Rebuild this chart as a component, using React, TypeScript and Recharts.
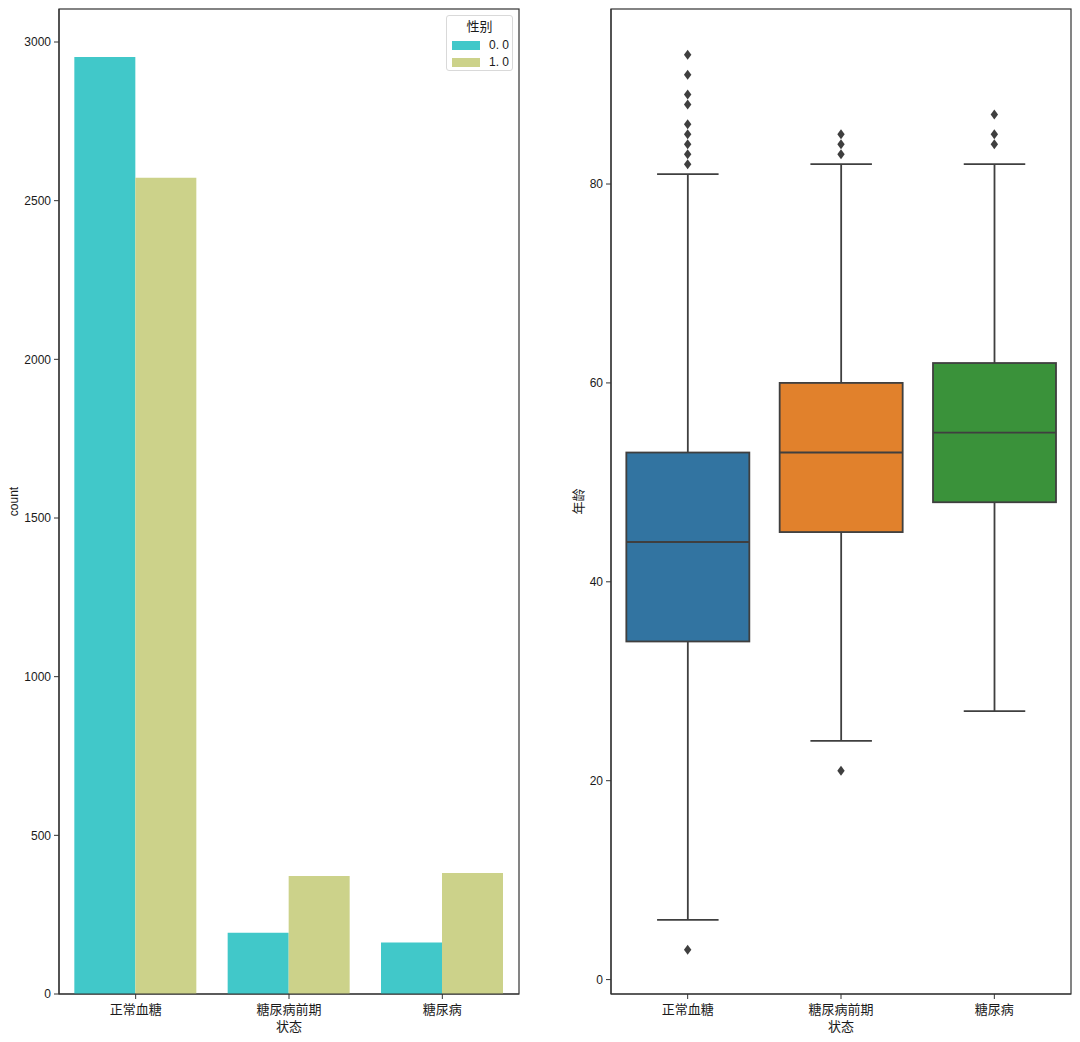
import React from "react";
import {
  BarChart,
  ComposedChart,
  Bar,
  Line,
  XAxis,
  YAxis,
  usePlotArea,
} from "recharts";

const categories = ["正常血糖", "糖尿病前期", "糖尿病"];

// left panel: counts by sex
const countSex0 = [2953, 193, 162];
const countSex1 = [2572, 372, 381];
const countTicks = [0, 500, 1000, 1500, 2000, 2500, 3000];
const legendLabels = ["0. 0", "1. 0"];

// right panel: age box plots
const whiskerLow = [6, 24, 27];
const whiskerHigh = [81, 82, 82];
const q1 = [34, 45, 48];
const median = [44, 53, 55];
const q3 = [53, 60, 62];
const outliers = [
  [93, 91, 89, 88, 86, 85, 84, 83, 82, 3],
  [85, 84, 83, 21],
  [87, 85, 84],
];
const boxColors = ["#3274a1", "#e1812c", "#3a923a"];
const ageTicks = [0, 20, 40, 60, 80];

const TEAL = "#41c8c9";
const OLIVE = "#ccd28a";
const AXIS = "#333333";
const INK = "#1a1a1a";
const BOX_LINE = "#3f3f3f";
const FONT = "'Liberation Sans', 'Noto Sans CJK SC', sans-serif";

const countData = categories.map((name, i) => ({
  name,
  sex0: countSex0[i],
  sex1: countSex1[i],
}));

const maxOutliers = Math.max(...outliers.map((o) => o.length));
const boxData = categories.map((name, i) => {
  const row: any = {
    name,
    range: [whiskerLow[i], whiskerHigh[i]],
    lo: whiskerLow[i],
    hi: whiskerHigh[i],
    q1: q1[i],
    med: median[i],
    q3: q3[i],
    color: boxColors[i],
  };
  outliers[i].forEach((v, k) => {
    row["o" + k] = v;
  });
  return row;
});

const BoxShape = (props: any) => {
  const { x, y, width, height, payload } = props;
  const { lo, hi } = payload;
  const py = (v: number) => y + ((hi - v) / (hi - lo)) * height;
  const cx = x + width / 2;
  const capW = width / 4;
  const sw = 1.8;
  return (
    <g>
      <line x1={cx} x2={cx} y1={y} y2={y + height} stroke={BOX_LINE} strokeWidth={sw} />
      <line x1={cx - capW} x2={cx + capW} y1={y} y2={y} stroke={BOX_LINE} strokeWidth={sw} />
      <line x1={cx - capW} x2={cx + capW} y1={y + height} y2={y + height} stroke={BOX_LINE} strokeWidth={sw} />
      <rect
        x={x}
        y={py(payload.q3)}
        width={width}
        height={py(payload.q1) - py(payload.q3)}
        fill={payload.color}
        stroke={BOX_LINE}
        strokeWidth={sw}
      />
      <line x1={x} x2={x + width} y1={py(payload.med)} y2={py(payload.med)} stroke={BOX_LINE} strokeWidth={sw} />
    </g>
  );
};

const Diamond = (props: any) => {
  const { cx, cy, value } = props;
  if (value == null || cy == null) return <g />;
  return (
    <path
      d={`M${cx} ${cy - 5}L${cx + 3.7} ${cy}L${cx} ${cy + 5}L${cx - 3.7} ${cy}Z`}
      fill={BOX_LINE}
    />
  );
};

// spines on all four sides, the way matplotlib draws them
const Frame = () => {
  const area = usePlotArea();
  if (!area) return null;
  return (
    <rect
      x={area.x}
      y={area.y}
      width={area.width}
      height={area.height}
      fill="none"
      stroke={AXIS}
      strokeWidth={1.2}
    />
  );
};

const SexLegend = () => (
  <div
    style={{
      position: "absolute",
      left: 446,
      top: 15,
      width: 67,
      height: 56,
      boxSizing: "border-box",
      border: "1px solid #d9d9d9",
      borderRadius: 3,
      background: "#fff",
      fontFamily: FONT,
      fontSize: 12,
      color: INK,
    }}
  >
    <div style={{ textAlign: "center", lineHeight: "14px", marginTop: 4, fontSize: 13 }}>性别</div>
    {legendLabels.map((label, i) => (
      <div key={label} style={{ position: "absolute", top: 22 + i * 17, left: 5, height: 14, display: "flex", alignItems: "center" }}>
        <span style={{ display: "inline-block", width: 28, height: 9, background: i === 0 ? TEAL : OLIVE }} />
        <span style={{ marginLeft: 9, lineHeight: "14px" }}>{label}</span>
      </div>
    ))}
  </div>
);

const tickStyle = { fill: INK, fontSize: 12, fontFamily: FONT };
const catTickStyle = { fill: INK, fontSize: 13, fontFamily: FONT };
const axisLine = { stroke: AXIS, strokeWidth: 1.2 };
const tickLine = { stroke: AXIS, strokeWidth: 1 };
const xLabel = {
  value: "状态",
  position: "insideBottom" as const,
  offset: 11,
  fill: INK,
  fontSize: 13,
  fontFamily: FONT,
};

export default function App() {
  return (
    <div style={{ position: "absolute", left: 0, top: 0, width: 1080, height: 1042, background: "#fff" }}>
      <div style={{ position: "absolute", left: 0, top: 0 }}>
        <BarChart
          width={540}
          height={1042}
          data={countData}
          margin={{ top: 9, right: 21, bottom: 0, left: 0 }}
          barCategoryGap="10%"
          barGap={0}
        >
          <XAxis dataKey="name" height={48} tick={catTickStyle} axisLine={axisLine} tickLine={tickLine} tickSize={5} tickMargin={6} label={xLabel} />
          <YAxis
            width={59}
            domain={[0, 3104]}
            ticks={countTicks}
            interval={0}
            allowDataOverflow
            tick={tickStyle}
            axisLine={axisLine}
            tickLine={tickLine}
            tickSize={5}
            tickMargin={3}
            label={{ value: "count", angle: -90, position: "insideLeft", offset: 14, fill: INK, fontSize: 12, fontFamily: FONT, style: { textAnchor: "middle" } }}
          />
          <Bar dataKey="sex0" name="0.0" fill={TEAL} isAnimationActive={false} />
          <Bar dataKey="sex1" name="1.0" fill={OLIVE} isAnimationActive={false} />
          <Frame />
        </BarChart>
        <SexLegend />
      </div>
      <div style={{ position: "absolute", left: 552, top: 0 }}>
        <ComposedChart
          width={528}
          height={1042}
          data={boxData}
          margin={{ top: 9, right: 9, bottom: 0, left: 0 }}
          barCategoryGap="10%"
        >
          <XAxis dataKey="name" height={48} tick={catTickStyle} axisLine={axisLine} tickLine={tickLine} tickSize={5} tickMargin={6} label={xLabel} />
          <YAxis
            width={59}
            domain={[-1.45, 97.6]}
            ticks={ageTicks}
            interval={0}
            allowDataOverflow
            tick={tickStyle}
            axisLine={axisLine}
            tickLine={tickLine}
            tickSize={5}
            tickMargin={3}
            label={{ value: "年龄", angle: -90, position: "insideLeft", offset: 26, fill: INK, fontSize: 13, fontFamily: FONT, style: { textAnchor: "middle" } }}
          />
          <Bar dataKey="range" shape={<BoxShape />} isAnimationActive={false} />
          {Array.from({ length: maxOutliers }, (_, k) => (
            <Line
              key={k}
              dataKey={"o" + k}
              stroke="none"
              dot={<Diamond />}
              activeDot={false}
              legendType="none"
              isAnimationActive={false}
            />
          ))}
          <Frame />
        </ComposedChart>
      </div>
    </div>
  );
}
